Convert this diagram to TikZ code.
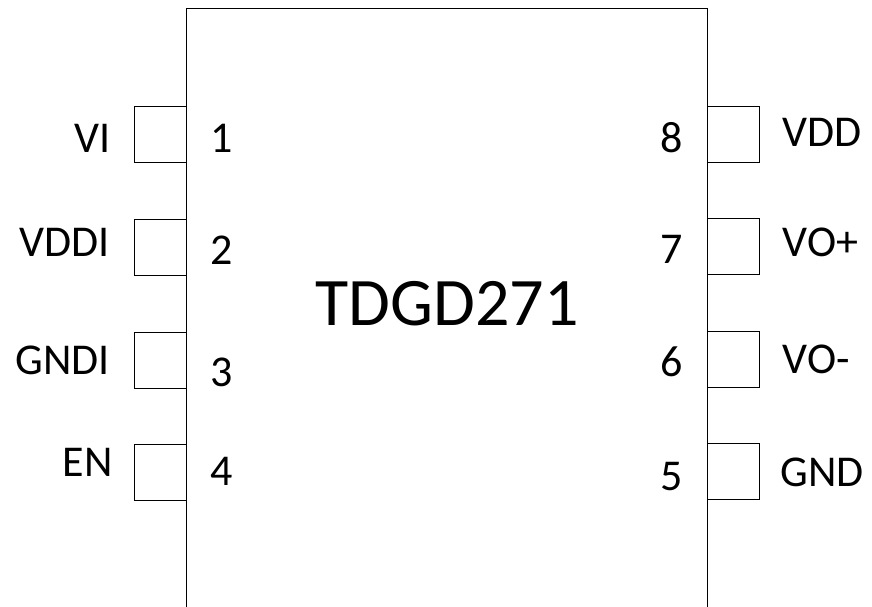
\documentclass[tikz,border=0pt]{standalone}
\usepackage{fontspec}
\setmainfont{Carlito}
\usepackage{tikz}
\tikzset{pin/.style={draw, line width=0.9pt, minimum width=52pt, minimum height=56pt, inner sep=0pt},
 pinname/.style={inner sep=0pt, font=\fontsize{44}{50}\selectfont},
 pinnum/.style={inner sep=0pt, anchor=base, font=\fontsize{44}{50}\selectfont},
 }

\begin{document}
\begin{tikzpicture}[x=1pt, y=-1pt]
        \useasboundingbox (0, 0) rectangle (872, 606);
        % package body, open at the bottom
        \coordinate (bl) at (186.7, 608);
        \coordinate (tl) at (186.7, 8.3);
        \coordinate (tr) at (707.3, 8.3);
        \coordinate (br) at (707.3, 608);
        \draw[line width=1.3pt] (bl) -- (tl) -- (tr) -- (br);
        \node[inner sep=0pt, anchor=base, font=\fontsize{68}{76}\selectfont] (chip) at (447, 325.7) {TDGD271};
        % left pins
        \node[pin, anchor=north east] (p1) at (tl |- 0, 106) {};
        \node[pin, anchor=north east] (p2) at (tl |- 0, 219) {};
        \node[pin, anchor=north east] (p3) at (tl |- 0, 331.7) {};
        \node[pin, anchor=north east] (p4) at (tl |- 0, 444.3) {};
        % right pins
        \node[pin, anchor=north west] (p8) at (tr |- 0, 106) {};
        \node[pin, anchor=north west] (p7) at (tr |- 0, 218) {};
        \node[pin, anchor=north west] (p6) at (tr |- 0, 330.7) {};
        \node[pin, anchor=north west] (p5) at (tr |- 0, 443.3) {};
        % pin numbers
        \node[pinnum] (n1) at (222, 152.7) {1};
        \node[pinnum] (n2) at (222, 264) {2};
        \node[pinnum] (n3) at (222, 386) {3};
        \node[pinnum] (n4) at (222, 485.7) {4};
        \node[pinnum] (n8) at (672, 152.7) {8};
        \node[pinnum] (n7) at (672, 263) {7};
        \node[pinnum] (n6) at (672, 376.7) {6};
        \node[pinnum] (n5) at (672, 490.7) {5};
        % pin names
        \node[pinname, anchor=base east] (vi) at (111, 152) {VI};
        \node[pinname, anchor=base east] (vddi) at (110, 256.7) {VDDI};
        \node[pinname, anchor=base east] (gndi) at (110, 374) {GNDI};
        \node[pinname, anchor=base east] (en) at (113, 476.7) {EN};
        \node[pinname, anchor=base west] (vdd) at (782.5, 146) {VDD};
        \node[pinname, anchor=base west] (vop) at (782.5, 256.7) {VO+};
        \node[pinname, anchor=base west] (vom) at (782.5, 373.3) {VO-};
        \node[pinname, anchor=base west] (gnd) at (780.5, 486) {GND};
    \end{tikzpicture}
\end{document}
